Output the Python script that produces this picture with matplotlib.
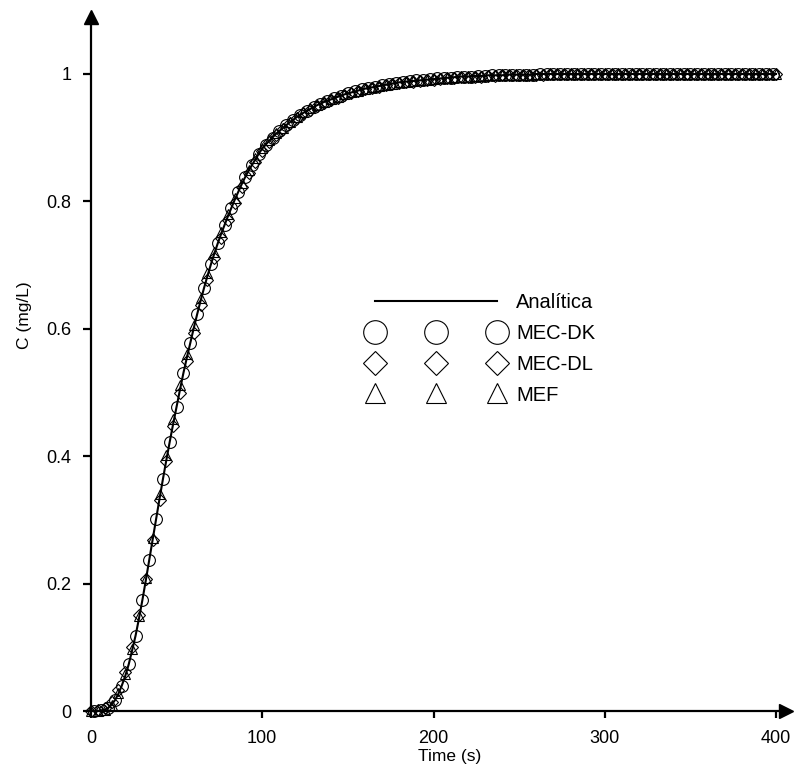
import matplotlib
matplotlib.use('Agg')
import matplotlib.pyplot as plt

plt.rcParams['font.family'] = ['Liberation Sans', 'DejaVu Sans']

# --- data --------------------------------------------------------------
# analytic solution: 2 s spacing up to 98 s, 4 s spacing afterwards
t_ana = list(range(0, 100, 2)) + list(range(100, 401, 4))
c_ana = [0.000, 0.000, 0.000, 0.001, 0.002, 0.005, 0.010, 0.017, 0.027, 0.040,
         0.055, 0.073, 0.095, 0.118, 0.145, 0.174, 0.205, 0.237, 0.269, 0.301,
         0.333, 0.364, 0.394, 0.423, 0.451, 0.478, 0.505, 0.531, 0.555, 0.578,
         0.601, 0.623, 0.644, 0.664, 0.683, 0.701, 0.718, 0.734, 0.749, 0.763,
         0.777, 0.790, 0.803, 0.815, 0.827, 0.838, 0.848, 0.857, 0.866, 0.875,
         0.883, 0.895, 0.906, 0.915, 0.924, 0.932, 0.939, 0.945, 0.951, 0.956,
         0.960, 0.964, 0.968, 0.971, 0.974, 0.977, 0.979, 0.981, 0.983, 0.985,
         0.987, 0.988, 0.989, 0.990, 0.991, 0.992, 0.993, 0.994, 0.995, 0.996,
         0.996, 0.997, 0.997, 0.998, 0.998, 0.998, 0.999, 0.999, 0.999, 0.999] + [1.0] * 36

# MEC-DK (circles)
t_dk = list(range(2, 400, 4))
c_dk = [0.000, 0.001, 0.005, 0.017, 0.040, 0.073, 0.118, 0.174, 0.237, 0.301,
        0.364, 0.423, 0.478, 0.531, 0.578, 0.623, 0.664, 0.701, 0.734, 0.763,
        0.790, 0.815, 0.838, 0.857, 0.875, 0.889, 0.900, 0.911, 0.920, 0.928,
        0.935, 0.942, 0.948, 0.953, 0.958, 0.962, 0.966, 0.970, 0.973, 0.976,
        0.978, 0.980, 0.982, 0.984, 0.986, 0.987, 0.989, 0.990, 0.991, 0.992,
        0.993, 0.994, 0.994, 0.995, 0.996, 0.996, 0.997, 0.997, 0.998, 0.998,
        0.998, 0.999, 0.999, 0.999, 0.999] + [1.0] * 35

# MEC-DL (diamonds)
t_dl = list(range(0, 401, 4))
c_dl = [0.000, 0.001, 0.004, 0.014, 0.033, 0.062, 0.101, 0.150, 0.207, 0.269,
        0.332, 0.392, 0.448, 0.500, 0.549, 0.594, 0.637, 0.676, 0.711, 0.743,
        0.771, 0.798, 0.822, 0.844, 0.862, 0.879, 0.893, 0.904, 0.914, 0.923,
        0.931, 0.938, 0.944, 0.950, 0.955, 0.959, 0.963, 0.967, 0.970, 0.973,
        0.976, 0.978, 0.980, 0.982, 0.984, 0.986, 0.987, 0.988, 0.989, 0.990,
        0.991, 0.992, 0.993, 0.994, 0.995, 0.995, 0.996, 0.996, 0.997, 0.997,
        0.998, 0.998, 0.998, 0.999, 0.999, 0.999, 0.999] + [1.0] * 34

# MEF (triangles)
t_mef = list(range(0, 401, 4))
c_mef = [0.000, 0.000, 0.002, 0.010, 0.029, 0.058, 0.098, 0.149, 0.209, 0.272,
         0.340, 0.402, 0.458, 0.511, 0.560, 0.606, 0.648, 0.687, 0.721, 0.752,
         0.780, 0.806, 0.829, 0.850, 0.868, 0.884, 0.896, 0.907, 0.916, 0.925,
         0.933, 0.940, 0.946, 0.951, 0.956, 0.960, 0.964, 0.968, 0.971, 0.974,
         0.977, 0.979, 0.981, 0.983, 0.985, 0.987, 0.988, 0.989, 0.990, 0.991,
         0.992, 0.993, 0.994, 0.995, 0.996, 0.996, 0.997, 0.997, 0.998, 0.998,
         0.998, 0.999, 0.999, 0.999, 0.999] + [1.0] * 36

x_ticks = [0, 100, 200, 300, 400]
y_ticks = [0, 0.2, 0.4, 0.6, 0.8, 1.0]
y_ticklabels = ['0', '0.2', '0.4', '0.6', '0.8', '1']

# --- figure -------------------------------------------------------------
W, H = 795, 774
fig = plt.figure(figsize=(W / 100, H / 100), dpi=100)
ax = fig.add_axes([91 / W, 63 / H, 695 / W, 694 / H])

mk = dict(linestyle='none', markerfacecolor='none', markeredgecolor='black',
          markeredgewidth=0.8, clip_on=False)
ln_ana, = ax.plot(t_ana, c_ana, color='black', lw=1.5, label='Analítica', zorder=3)
ln_dk, = ax.plot(t_dk, c_dk, marker='o', markersize=8.5, label='MEC-DK', **mk)
ln_dl, = ax.plot(t_dl, c_dl, marker='D', markersize=6.0, label='MEC-DL', **mk)
ln_mef, = ax.plot(t_mef, c_mef, marker='^', markersize=7.5, label='MEF', **mk)

ax.set_xlim(0, 695 / 1.7125)
ax.set_ylim(0, 694 / 637)

for s in ['top', 'right']:
    ax.spines[s].set_visible(False)
for s in ['left', 'bottom']:
    ax.spines[s].set_linewidth(1.6)

ax.set_xticks(x_ticks)
ax.set_yticks(y_ticks)
ax.set_yticklabels(y_ticklabels)
ax.tick_params(axis='y', direction='out', length=6, width=1.6, pad=8, labelsize=13)
ax.tick_params(axis='x', direction='out', length=5, width=1.6, pad=9, labelsize=13)

# arrow heads at the ends of the axes
ax.plot(1, 0, '>k', markersize=10, transform=ax.get_yaxis_transform(), clip_on=False)
ax.plot(0, 1, '^k', markersize=10, transform=ax.get_xaxis_transform(), clip_on=False)

ax.set_xlabel('Time (s)', fontsize=12.5)
ax.xaxis.set_label_coords((449.5 - 91) / 695, (711 - 757) / 694)
ax.xaxis.label.set_va('center')
ax.set_ylabel('C (mg/L)', fontsize=12.5)
ax.yaxis.set_label_coords((24 - 91) / 695, (711 - 315) / 694)
ax.yaxis.label.set_va('center')

ax.legend(handles=[ln_ana, ln_dk, ln_dl, ln_mef], numpoints=3, markerscale=2.0,
          frameon=False, fontsize=14.5, handlelength=6.65, handletextpad=0.65,
          labelspacing=0.58, loc='center left', bbox_to_anchor=(0.374, 0.5216))

fig.savefig('out.png', dpi=100)
